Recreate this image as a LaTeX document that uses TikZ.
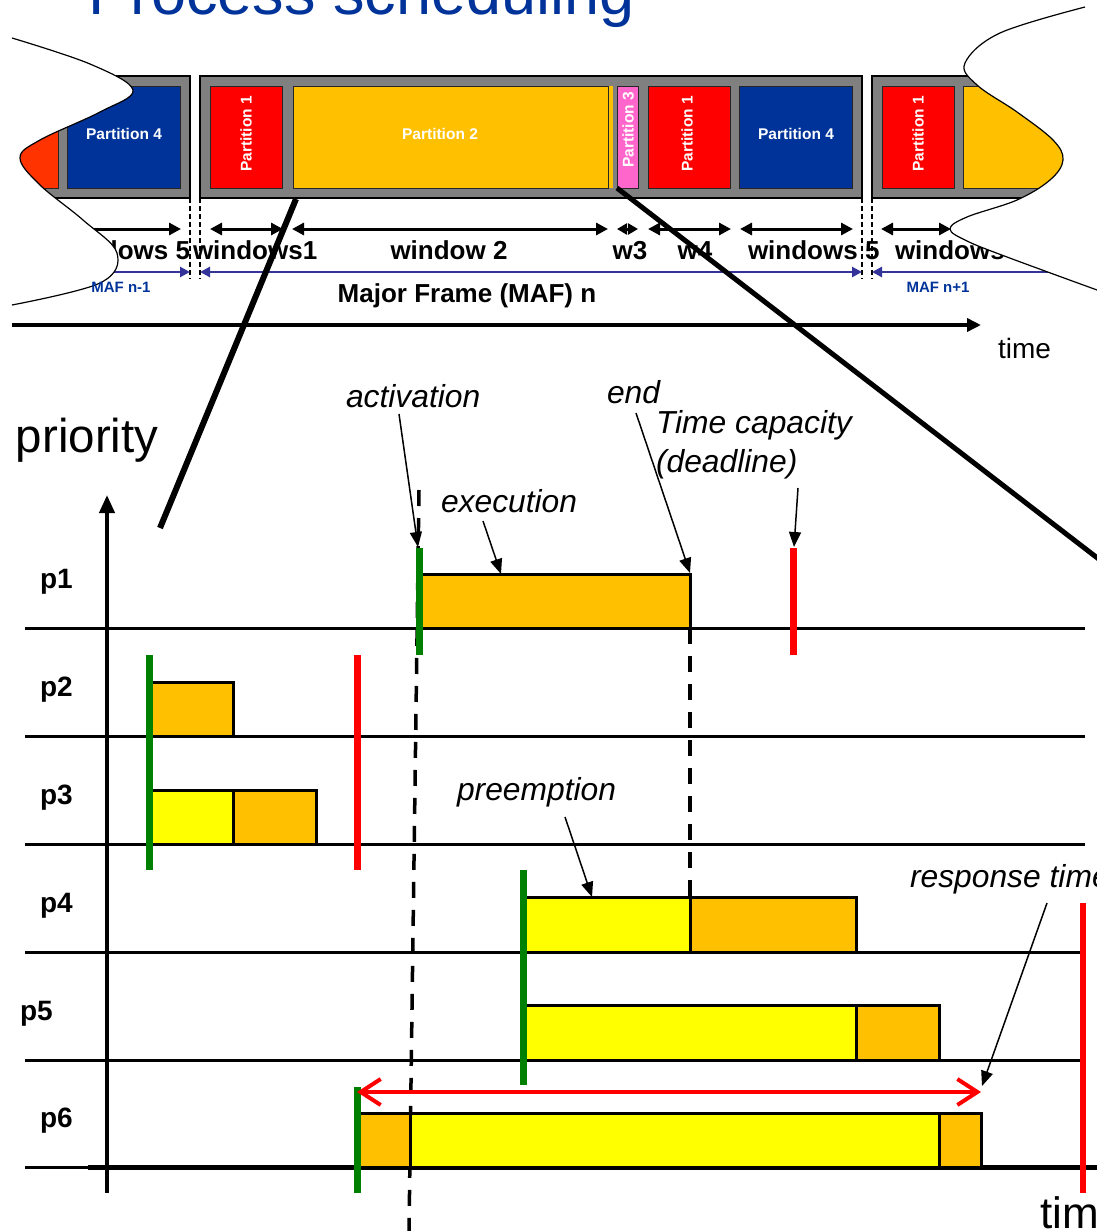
\documentclass[tikz,border=0pt]{standalone}
\usepackage{fontspec}
\setmainfont{Liberation Sans}
\usetikzlibrary{arrows.meta}

\definecolor{titleblue}{RGB}{0,51,153}
\definecolor{mafblue}{RGB}{51,51,153}
\definecolor{framegray}{RGB}{128,128,128}
\definecolor{partblue}{RGB}{0,51,153}
\definecolor{partred}{RGB}{255,0,0}
\definecolor{partorangered}{RGB}{255,51,0}
\definecolor{amber}{RGB}{255,192,0}
\definecolor{partpink}{RGB}{255,102,204}
\definecolor{actgreen}{RGB}{0,128,0}
\definecolor{runyellow}{RGB}{255,255,0}

\newcommand\fsz[1]{\fontsize{#1}{#1}\selectfont}

\begin{document}
\begin{tikzpicture}[x=1pt,y=-1pt,
  every node/.style={inner sep=0pt, outer sep=0pt},
  frame/.style={fill=framegray, draw=black, line width=1.5pt},
  slot/.style={draw=black!85, line width=1pt},
  ptext/.style={text=white, font=\fsz{15.5}\bfseries},
  wlabel/.style={font=\fsz{26}\bfseries, anchor=base},
  maftext/.style={text=titleblue, font=\fsz{15}\bfseries, anchor=base},
  winarrow/.style={line width=3pt, {Triangle[length=12pt,width=12pt]}-{Triangle[length=12pt,width=12pt]}},
  mafarrow/.style={draw=mafblue, line width=2.5pt},
  sepdash/.style={line width=2pt, dash pattern=on 5pt off 3pt},
  wave/.style={line width=1.2pt},
  zoomline/.style={line width=6pt},
  rowline/.style={line width=3pt},
  bar/.style={draw=black, line width=3pt},
  actline/.style={draw=actgreen, line width=7pt},
  dlline/.style={draw=red, line width=7pt},
  guide/.style={line width=3.5pt, dash pattern=on 16pt off 12pt},
  plabel/.style={font=\fsz{28}\bfseries, anchor=base west},
  note/.style={font=\fsz{31.8}\itshape, anchor=base west},
  annot/.style={line width=1.5pt, -{Triangle[length=15pt,width=12pt]}},
  resp/.style={draw=red, line width=4pt,
    {Straight Barb[length=20pt,width=26pt]}-{Straight Barb[length=20pt,width=26pt]}}
]
\useasboundingbox (0,0) rectangle (1097,1231);

% ---------------- title ----------------
\node[anchor=base west, text=titleblue, font=\fsz{63}] (title) at (88,15) {Process scheduling};

% ---------------- partition time line ----------------
\draw[frame] (-5,76) rectangle (190,198);
\draw[frame] (200,76) rectangle (862,198);
\draw[frame] (872,76) rectangle (1110,198);

\draw[slot, fill=partorangered] (-5,86) rectangle (58,188);
\draw[slot, fill=partblue] (67,86) rectangle (180,188);
\draw[slot, fill=partred] (210,86) rectangle (282,188);
\draw[slot, fill=amber] (293,86) rectangle (608,188);
\fill[amber] (609,86) rectangle (613,188);
\draw[slot, fill=partpink] (617,86) rectangle (638,188);
\draw[slot, fill=partred] (648,86) rectangle (730,188);
\draw[slot, fill=partblue] (739,86) rectangle (852,188);
\draw[slot, fill=partred] (882,86) rectangle (954,188);
\draw[slot, fill=amber] (963,86) rectangle (1110,188);

\node[ptext] (pa4) at (124,134) {Partition 4};
\node[ptext, rotate=90] (pb1) at (246,134) {Partition 1};
\node[ptext] (pb2) at (440,134) {Partition 2};
\node[ptext, rotate=90] (pb3) at (628,130) {Partition 3};
\node[ptext, rotate=90] (pc1) at (687,134) {Partition 1};
\node[ptext] (pc4) at (796,134) {Partition 4};
\node[ptext, rotate=90] (pd1) at (918,134) {Partition 1};

% frame boundaries
\draw[sepdash] (190,198) -- (190,279);
\draw[sepdash] (200,198) -- (200,279);
\draw[sepdash] (862,198) -- (862,279);
\draw[sepdash] (872,198) -- (872,279);

% window extents
\coordinate (w0a) at (60,229);   \coordinate (w0b) at (181,229);
\coordinate (w1a) at (210,229);  \coordinate (w1b) at (283,229);
\coordinate (w2a) at (292,229);  \coordinate (w2b) at (608,229);
\coordinate (w3a) at (617,229);  \coordinate (w3b) at (638,229);
\coordinate (w4a) at (648,229);  \coordinate (w4b) at (731,229);
\coordinate (w5a) at (740,229);  \coordinate (w5b) at (853,229);
\coordinate (w6a) at (881,229);  \coordinate (w6b) at (951,229);
\draw[line width=3pt, -{Triangle[length=12pt,width=12pt]}] (w0a) -- (w0b);
\draw[winarrow] (w1a) -- (w1b);
\draw[winarrow] (w2a) -- (w2b);
\draw[line width=3pt, {Triangle[length=10pt,width=11pt]}-{Triangle[length=10pt,width=11pt]}] (w3a) -- (w3b);
\draw[winarrow] (w4a) -- (w4b);
\draw[winarrow] (w5a) -- (w5b);
\draw[winarrow] (w6a) -- (w6b);

\node[wlabel, anchor=base east] (wl0) at (190,259) {windows 5};
\node[wlabel, anchor=base west] (wl1) at (193,259) {windows1};
\node[wlabel] (wl2) at (449,259) {window 2};
\node[wlabel] (wl3) at (630,259) {w3};
\node[wlabel] (wl4) at (695,259) {w4};
\node[wlabel, anchor=base west] (wl5) at (748,259) {windows 5};
\node[wlabel, anchor=base west] (wl6) at (895,259) {windows};

% major frames
\coordinate (m0a) at (80,272);  \coordinate (m0b) at (190,272);
\coordinate (m1a) at (200,272); \coordinate (m1b) at (862,272);
\coordinate (m2a) at (872,272); \coordinate (m2b) at (1097,272);
\draw[mafarrow, -{Triangle[length=10pt,width=10pt]}] (m0a) -- (m0b);
\draw[mafarrow, {Triangle[length=10pt,width=10pt]}-{Triangle[length=10pt,width=10pt]}] (m1a) -- (m1b);
\draw[mafarrow, {Triangle[length=10pt,width=10pt]}-] (m2a) -- (m2b);

% cut-away edges of the strip
\fill[white] (-2,30) -- plot[smooth, tension=0.6] coordinates {(12,38) (90,64) (133,90) (100,112) (40,140) (20,158) (40,185) (83,220) (117,253) (100,283) (12,305)} -- (-2,310) -- cycle;
\draw[wave] plot[smooth, tension=0.6] coordinates {(12,38) (90,64) (133,90) (100,112) (40,140) (20,158) (40,185) (83,220) (117,253) (100,283) (12,305)};
\fill[white] (1100,0) -- plot[smooth, tension=0.6] coordinates {(1085,7) (1000,33) (965,63) (977,85) (1017,112) (1053,140) (1063,160) (1050,180) (1017,200) (967,217) (950,229) (967,241) (1007,257) (1097,290)} -- (1100,292) -- cycle;
\draw[wave] plot[smooth, tension=0.6] coordinates {(1085,7) (1000,33) (965,63) (977,85) (1017,112) (1053,140) (1063,160) (1050,180) (1017,200) (967,217) (950,229) (967,241) (1007,257) (1097,290)};

\node[maftext] (maf0) at (121,292) {MAF n-1};
\node[wlabel] (maf1) at (467,302) {Major Frame (MAF) n};
\node[maftext] (maf2) at (938,292) {MAF n+1};

% global time axis
\coordinate (ta0) at (12,325);
\coordinate (ta1) at (981,325);
\draw[line width=4pt, -{Triangle[length=14pt,width=13pt]}] (ta0) -- (ta1);
\node[anchor=base west, font=\fsz{28}] (time1) at (998,358) {time};

% ---------------- process chart ----------------
\node[anchor=base west, font=\fsz{47.5}] (prio) at (16,452) {priority};

% row base lines
\foreach \yy/\nm in {628/r1,736/r2,844/r3,952/r4,1060/r5}{
  \coordinate (\nm a) at (25,\yy);
  \coordinate (\nm b) at (1085,\yy);
  \draw[rowline] (\nm a) -- (\nm b);
}
\coordinate (r6a) at (25,1167);
\coordinate (r6m) at (88,1167);
\coordinate (r6b) at (1097,1167);
\draw[rowline] (r6a) -- (r6m);
\draw[line width=5pt] (r6m) -- (r6b);

% priority axis
\coordinate (ax0) at (107,1193);
\coordinate (ax1) at (107,495);
\draw[line width=4pt, -{Triangle[length=18pt,width=15pt]}] (ax0) -- (ax1);

% time guides
\coordinate (g1a) at (419,490);
\coordinate (g1b) at (409,1231);
\draw[guide] (g1a) -- (g1b);
\coordinate (g2a) at (690,628);
\coordinate (g2b) at (690,897);
\draw[guide] (g2a) -- (g2b);

% execution bars
\draw[bar, fill=amber] (419,574) rectangle (690,628);
\draw[bar, fill=amber] (149,682) rectangle (233,736);
\draw[bar, fill=runyellow] (149,790) rectangle (233,844);
\draw[bar, fill=amber] (233,790) rectangle (316,844);
\draw[bar, fill=runyellow] (523,897) rectangle (690,952);
\draw[bar, fill=amber] (690,897) rectangle (856,952);
\draw[bar, fill=runyellow] (523,1005) rectangle (856,1060);
\draw[bar, fill=amber] (856,1005) rectangle (939,1060);
\draw[bar, fill=amber] (357,1113) rectangle (410,1167);
\draw[bar, fill=runyellow] (410,1113) rectangle (939,1167);
\draw[bar, fill=amber] (939,1113) rectangle (981,1167);

% activations and deadlines
\draw[actline] (419,548) -- (419,655);
\draw[actline] (149,655) -- (149,870);
\draw[actline] (523,870) -- (523,1085);
\draw[actline] (357,1087) -- (357,1193);
\draw[dlline] (793,548) -- (793,655);
\draw[dlline] (357,655) -- (357,870);
\draw[dlline, line width=6pt] (1083,903) -- (1083,1193);

% response time
\coordinate (rt0) at (357,1092);
\coordinate (rt1) at (981,1092);
\draw[resp] (rt0) -- (rt1);

% row labels
\node[plabel] (p1) at (40,588) {p1};
\node[plabel] (p2) at (40,696) {p2};
\node[plabel] (p3) at (40,804) {p3};
\node[plabel] (p4) at (40,912) {p4};
\node[plabel] (p5) at (20,1020) {p5};
\node[plabel] (p6) at (40,1127) {p6};

% annotations
\node[note] (act) at (346,407) {activation};
\node[note] (exe) at (441,512) {execution};
\node[note] (endn) at (607,403) {end};
\node[note] (cap1) at (656,433) {Time capacity};
\node[note] (cap2) at (656,472) {(deadline)};
\node[note] (pre) at (457,800) {preemption};
\node[note] (rsp) at (910,887) {response time};

\coordinate (actA) at (399,414);  \coordinate (actB) at (418,547);
\coordinate (exeA) at (483,521);  \coordinate (exeB) at (501,574);
\coordinate (endA) at (636,413);  \coordinate (endB) at (690,573);
\coordinate (capA) at (798,488);  \coordinate (capB) at (794,547);
\coordinate (preA) at (565,817);  \coordinate (preB) at (592,897);
\coordinate (rspA) at (1047,903); \coordinate (rspB) at (982,1086);
\draw[annot] (actA) -- (actB);
\draw[annot] (exeA) -- (exeB);
\draw[annot] (endA) -- (endB);
\draw[annot] (capA) -- (capB);
\draw[annot] (preA) -- (preB);
\draw[annot] (rspA) -- (rspB);

\node[anchor=base west, font=\fsz{44}] (time2) at (1040,1228) {time};

% ---------------- zoom lines ----------------
\coordinate (zA0) at (296,199);
\coordinate (zA1) at (160,528);
\coordinate (zB0) at (617,188);
\coordinate (zB1) at (1100,560);
\draw[zoomline] (zA0) -- (zA1);
\draw[zoomline, line width=5pt] (zB0) -- (zB1);
\end{tikzpicture}
\end{document}
